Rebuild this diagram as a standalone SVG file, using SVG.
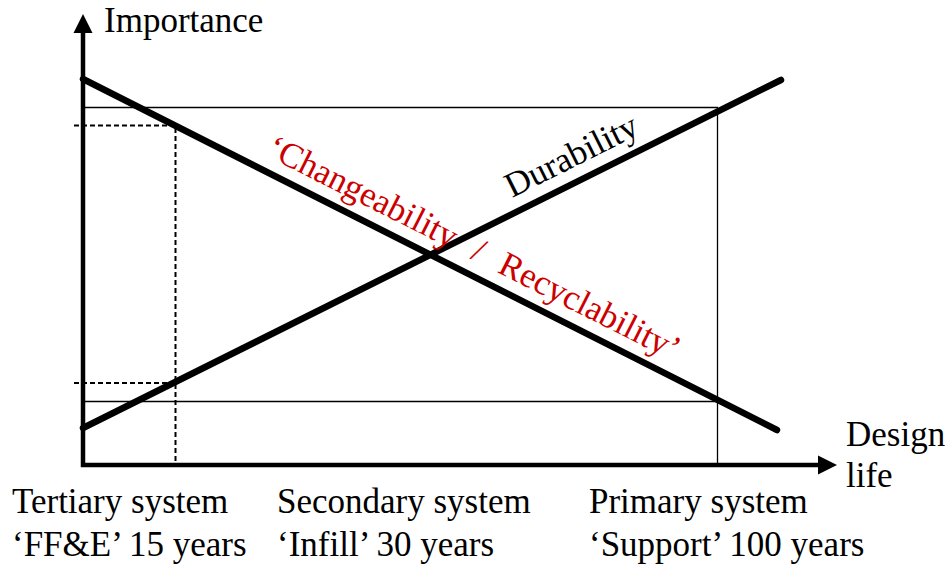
<svg xmlns="http://www.w3.org/2000/svg" width="950" height="564" viewBox="0 0 950 564">
<style>
text{font-family:'Liberation Serif','Times New Roman',serif;font-size:35px;fill:#000}
.red{fill:#cc0000}
.thin{stroke:#000;stroke-width:1.3;fill:none}
.dash{stroke:#000;stroke-width:2;stroke-dasharray:5,3;fill:none}
.thick{stroke:#000;stroke-width:6.5;stroke-linecap:round;fill:none}
.axis{stroke:#000;stroke-width:4.5;fill:none}
</style>
<rect width="950" height="564" fill="#fff"/>
<g id="frame">
<polyline class="thin" points="83,107.5 717.5,107.5 717.5,465"/>
<line class="thin" x1="83" y1="401.5" x2="717.5" y2="401.5"/>
</g>
<g id="guides">
<polyline class="dash" points="74,125.5 175.5,125.5 175.5,465"/>
<line class="dash" x1="74" y1="383" x2="175.5" y2="383"/>
</g>
<g id="axes">
<polyline class="axis" points="83,30 83,465 822,465"/>
<polygon points="83,14 73.5,33 92.5,33" fill="#000"/>
<polygon points="837,465 818,455.5 818,474.5" fill="#000"/>
</g>
<g id="connectors">
<line class="thick" x1="83" y1="79" x2="777" y2="430"/>
<line class="thick" x1="83" y1="428" x2="781" y2="80"/>
</g>
<g id="axis-labels">
<text x="104" y="32">Importance</text>
<text x="846" y="446">Design</text>
<text x="846" y="487">life</text>
</g>
<g id="line-labels">
<text transform="translate(512,198) rotate(-26.55)">Durability</text>
<g transform="translate(265,155) rotate(26.8)">
<text class="red" x="0" y="0">‘Changeability</text>
<text class="red" x="229" y="0">/</text>
<text class="red" x="259" y="0">Recyclability’</text>
</g>
</g>
<g id="tertiary">
<text x="12" y="513">Tertiary system</text>
<text x="12" y="556">‘FF&amp;E’ 15 years</text>
</g>
<g id="secondary">
<text x="277" y="513">Secondary system</text>
<text x="277" y="556">‘Infill’ 30 years</text>
</g>
<g id="primary">
<text x="589" y="513">Primary system</text>
<text x="589" y="556">‘Support’ 100 years</text>
</g>
</svg>
